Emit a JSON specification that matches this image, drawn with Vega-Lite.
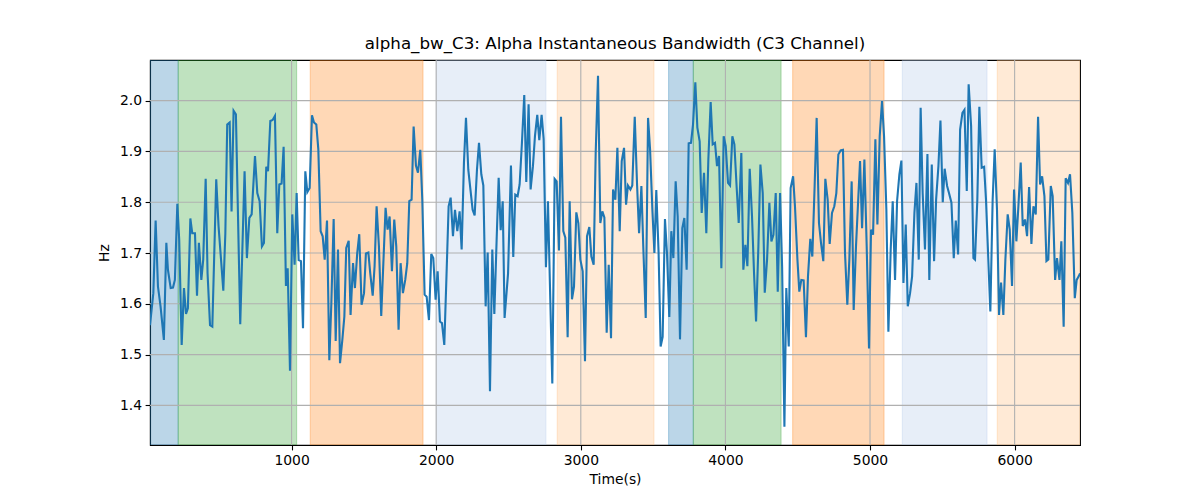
{
  "$schema": "https://vega.github.io/schema/vega-lite/v6.json",
  "width": 930,
  "height": 385,
  "autosize": {"type": "none"},
  "padding": {"left": 150, "top": 60, "right": 120, "bottom": 55},
  "background": "white",
  "view": {"stroke": "black", "strokeWidth": 1.1},
  "title": {
    "text": "alpha_bw_C3: Alpha Instantaneous Bandwidth (C3 Channel)",
    "font": "DejaVu Sans",
    "fontSize": 16.7,
    "fontWeight": "normal",
    "color": "black",
    "anchor": "middle",
    "offset": 7
  },
  "config": {
    "axis": {
      "labelFont": "DejaVu Sans",
      "labelFontSize": 13.9,
      "labelColor": "black",
      "titleFont": "DejaVu Sans",
      "titleFontSize": 13.9,
      "titleFontWeight": "normal",
      "titleColor": "black",
      "tickColor": "black",
      "tickSize": 4.9,
      "tickWidth": 1.1,
      "domainColor": "black",
      "domainWidth": 1.1,
      "labelPadding": 3.5,
      "grid": false
    }
  },
  "datasets": {
    "bw": [
      {"t":21,"v":1.558},{"t":44,"v":1.621},{"t":60,"v":1.764},{"t":76,"v":1.634},{"t":94,"v":1.595},{"t":117,"v":1.529},{"t":134,"v":1.720},{"t":145,"v":1.667},{"t":164,"v":1.631},{"t":180,"v":1.632},{"t":193,"v":1.647},{"t":210,"v":1.797},{"t":223,"v":1.726},{"t":240,"v":1.519},{"t":256,"v":1.631},{"t":270,"v":1.580},{"t":283,"v":1.591},{"t":300,"v":1.768},{"t":313,"v":1.739},{"t":332,"v":1.739},{"t":346,"v":1.616},{"t":359,"v":1.720},{"t":376,"v":1.647},{"t":389,"v":1.687},{"t":406,"v":1.846},{"t":419,"v":1.660},{"t":436,"v":1.558},{"t":452,"v":1.555},{"t":479,"v":1.845},{"t":495,"v":1.753},{"t":514,"v":1.680},{"t":528,"v":1.626},{"t":542,"v":1.739},{"t":555,"v":1.953},{"t":572,"v":1.957},{"t":585,"v":1.782},{"t":599,"v":1.980},{"t":615,"v":1.973},{"t":645,"v":1.560},{"t":675,"v":1.861},{"t":691,"v":1.690},{"t":708,"v":1.769},{"t":724,"v":1.776},{"t":747,"v":1.891},{"t":763,"v":1.818},{"t":779,"v":1.802},{"t":795,"v":1.713},{"t":809,"v":1.720},{"t":825,"v":1.870},
      {"t":837,"v":1.861},{"t":853,"v":1.960},{"t":869,"v":1.962},{"t":885,"v":1.970},{"t":901,"v":1.739},{"t":915,"v":1.835},{"t":931,"v":1.837},{"t":945,"v":1.909},{"t":961,"v":1.635},{"t":973,"v":1.670},{"t":989,"v":1.468},{"t":1005,"v":1.776},{"t":1021,"v":1.677},{"t":1035,"v":1.818},{"t":1049,"v":1.686},{"t":1065,"v":1.684},{"t":1079,"v":1.552},{"t":1095,"v":1.861},{"t":1109,"v":1.820},{"t":1125,"v":1.828},{"t":1141,"v":1.971},{"t":1155,"v":1.957},{"t":1171,"v":1.953},{"t":1185,"v":1.904},{"t":1201,"v":1.743},{"t":1215,"v":1.733},{"t":1229,"v":1.687},{"t":1245,"v":1.764},{"t":1261,"v":1.489},{"t":1275,"v":1.601},{"t":1291,"v":1.767},{"t":1305,"v":1.527},{"t":1321,"v":1.707},{"t":1335,"v":1.483},{"t":1351,"v":1.529},{"t":1365,"v":1.575},{"t":1378,"v":1.710},{"t":1395,"v":1.724},{"t":1408,"v":1.578},{"t":1425,"v":1.680},{"t":1438,"v":1.631},{"t":1454,"v":1.700},{"t":1468,"v":1.737},{"t":1484,"v":1.598},{"t":1501,"v":1.621},{"t":1514,"v":1.699},{"t":1531,"v":1.701},{"t":1544,"v":1.660},{"t":1561,"v":1.616},{"t":1574,"v":1.674},{"t":1588,"v":1.792},{"t":1604,"v":1.713},{"t":1620,"v":1.576},
      {"t":1650,"v":1.789},{"t":1664,"v":1.746},{"t":1678,"v":1.772},{"t":1694,"v":1.664},{"t":1710,"v":1.766},{"t":1724,"v":1.713},{"t":1740,"v":1.549},{"t":1754,"v":1.680},{"t":1770,"v":1.621},{"t":1786,"v":1.647},{"t":1800,"v":1.680},{"t":1814,"v":1.802},{"t":1830,"v":1.805},{"t":1844,"v":1.949},{"t":1860,"v":1.872},{"t":1874,"v":1.858},{"t":1890,"v":1.903},{"t":1904,"v":1.805},{"t":1920,"v":1.618},{"t":1934,"v":1.614},{"t":1950,"v":1.568},{"t":1966,"v":1.698},{"t":1980,"v":1.690},{"t":1996,"v":1.608},{"t":2010,"v":1.664},{"t":2026,"v":1.565},{"t":2040,"v":1.562},{"t":2056,"v":1.519},{"t":2070,"v":1.644},{"t":2086,"v":1.792},{"t":2100,"v":1.809},{"t":2116,"v":1.733},{"t":2130,"v":1.785},{"t":2146,"v":1.743},{"t":2162,"v":1.782},{"t":2176,"v":1.707},{"t":2192,"v":1.878},{"t":2206,"v":1.966},{"t":2222,"v":1.864},{"t":2238,"v":1.822},{"t":2252,"v":1.785},{"t":2266,"v":1.774},{"t":2282,"v":1.864},{"t":2296,"v":1.917},{"t":2312,"v":1.855},{"t":2326,"v":1.833},{"t":2342,"v":1.595},{"t":2356,"v":1.701},{"t":2372,"v":1.428},{"t":2388,"v":1.707},{"t":2402,"v":1.580},{"t":2418,"v":1.726},{"t":2432,"v":1.848},{"t":2446,"v":1.745},{"t":2460,"v":1.802},
      {"t":2473,"v":1.572},{"t":2497,"v":1.660},{"t":2517,"v":1.872},{"t":2533,"v":1.692},{"t":2547,"v":1.815},{"t":2563,"v":1.812},{"t":2577,"v":1.835},{"t":2593,"v":1.917},{"t":2609,"v":2.011},{"t":2623,"v":1.840},{"t":2639,"v":1.993},{"t":2653,"v":1.825},{"t":2669,"v":1.871},{"t":2683,"v":1.930},{"t":2699,"v":1.972},{"t":2713,"v":1.922},{"t":2729,"v":1.972},{"t":2743,"v":1.925},{"t":2759,"v":1.672},{"t":2773,"v":1.802},{"t":2789,"v":1.608},{"t":2803,"v":1.443},{"t":2819,"v":1.846},{"t":2833,"v":1.841},{"t":2849,"v":1.705},{"t":2863,"v":1.968},{"t":2879,"v":1.743},{"t":2893,"v":1.730},{"t":2909,"v":1.534},{"t":2923,"v":1.802},{"t":2939,"v":1.609},{"t":2953,"v":1.634},{"t":2969,"v":1.780},{"t":2983,"v":1.759},{"t":2997,"v":1.687},{"t":3013,"v":1.664},{"t":3029,"v":1.487},{"t":3043,"v":1.733},{"t":3059,"v":1.751},{"t":3073,"v":1.693},{"t":3089,"v":1.677},{"t":3103,"v":1.897},{"t":3119,"v":2.049},{"t":3135,"v":1.759},{"t":3149,"v":1.782},{"t":3163,"v":1.770},{"t":3179,"v":1.543},{"t":3193,"v":1.677},{"t":3209,"v":1.532},{"t":3223,"v":1.825},{"t":3239,"v":1.805},{"t":3253,"v":1.907},{"t":3269,"v":1.743},
      {"t":3283,"v":1.881},{"t":3299,"v":1.907},{"t":3313,"v":1.795},{"t":3326,"v":1.833},{"t":3343,"v":1.825},{"t":3356,"v":1.833},{"t":3373,"v":1.968},{"t":3389,"v":1.835},{"t":3403,"v":1.739},{"t":3419,"v":1.832},{"t":3432,"v":1.713},{"t":3449,"v":1.572},{"t":3465,"v":1.966},{"t":3479,"v":1.904},{"t":3495,"v":1.785},{"t":3509,"v":1.700},{"t":3522,"v":1.824},{"t":3538,"v":1.700},{"t":3552,"v":1.516},{"t":3566,"v":1.535},{"t":3582,"v":1.767},{"t":3596,"v":1.700},{"t":3612,"v":1.574},{"t":3626,"v":1.743},{"t":3640,"v":1.690},{"t":3656,"v":1.841},{"t":3670,"v":1.772},{"t":3686,"v":1.530},{"t":3702,"v":1.749},{"t":3716,"v":1.769},{"t":3732,"v":1.667},{"t":3746,"v":1.916},{"t":3762,"v":1.917},{"t":3776,"v":1.953},{"t":3792,"v":2.036},{"t":3806,"v":1.947},{"t":3822,"v":1.920},{"t":3836,"v":1.779},{"t":3852,"v":1.858},{"t":3868,"v":1.739},{"t":3882,"v":1.884},{"t":3898,"v":1.997},{"t":3912,"v":1.914},{"t":3928,"v":1.917},{"t":3942,"v":1.871},{"t":3956,"v":1.891},{"t":3972,"v":1.670},{"t":3988,"v":1.930},{"t":4002,"v":1.911},{"t":4018,"v":1.838},{"t":4032,"v":1.833},{"t":4048,"v":1.930},{"t":4062,"v":1.914},{"t":4078,"v":1.828},{"t":4092,"v":1.759},
      {"t":4110,"v":1.897},{"t":4124,"v":1.667},{"t":4138,"v":1.716},{"t":4152,"v":1.674},{"t":4168,"v":1.866},{"t":4184,"v":1.772},{"t":4198,"v":1.660},{"t":4212,"v":1.565},{"t":4228,"v":1.713},{"t":4242,"v":1.874},{"t":4258,"v":1.818},{"t":4272,"v":1.622},{"t":4288,"v":1.687},{"t":4304,"v":1.799},{"t":4318,"v":1.723},{"t":4332,"v":1.736},{"t":4348,"v":1.818},{"t":4362,"v":1.624},{"t":4378,"v":1.818},{"t":4392,"v":1.674},{"t":4408,"v":1.358},{"t":4421,"v":1.631},{"t":4438,"v":1.516},{"t":4451,"v":1.828},{"t":4468,"v":1.851},{"t":4481,"v":1.792},{"t":4498,"v":1.687},{"t":4511,"v":1.624},{"t":4525,"v":1.647},{"t":4541,"v":1.646},{"t":4557,"v":1.534},{"t":4571,"v":1.654},{"t":4587,"v":1.728},{"t":4601,"v":1.693},{"t":4617,"v":1.832},{"t":4631,"v":1.966},{"t":4647,"v":1.759},{"t":4661,"v":1.720},{"t":4677,"v":1.684},{"t":4691,"v":1.846},{"t":4707,"v":1.805},{"t":4721,"v":1.718},{"t":4737,"v":1.779},{"t":4753,"v":1.792},{"t":4767,"v":1.818},{"t":4781,"v":1.894},{"t":4797,"v":1.902},{"t":4813,"v":1.903},{"t":4827,"v":1.700},{"t":4843,"v":1.598},{"t":4857,"v":1.687},{"t":4873,"v":1.841},{"t":4887,"v":1.588},{"t":4903,"v":1.713},
      {"t":4931,"v":1.881},{"t":4945,"v":1.749},{"t":4961,"v":1.884},{"t":4977,"v":1.713},{"t":4993,"v":1.512},{"t":5007,"v":1.746},{"t":5021,"v":1.736},{"t":5037,"v":1.924},{"t":5051,"v":1.756},{"t":5067,"v":1.930},{"t":5083,"v":1.999},{"t":5097,"v":1.930},{"t":5113,"v":1.785},{"t":5127,"v":1.545},{"t":5143,"v":1.707},{"t":5157,"v":1.802},{"t":5173,"v":1.647},{"t":5187,"v":1.802},{"t":5203,"v":1.855},{"t":5217,"v":1.882},{"t":5231,"v":1.641},{"t":5247,"v":1.756},{"t":5261,"v":1.595},{"t":5277,"v":1.621},{"t":5291,"v":1.654},{"t":5307,"v":1.779},{"t":5321,"v":1.838},{"t":5337,"v":1.687},{"t":5350,"v":1.986},{"t":5364,"v":1.818},{"t":5380,"v":1.707},{"t":5397,"v":1.895},{"t":5410,"v":1.647},{"t":5427,"v":1.874},{"t":5443,"v":1.684},{"t":5457,"v":1.805},{"t":5473,"v":1.871},{"t":5487,"v":1.961},{"t":5503,"v":1.800},{"t":5516,"v":1.866},{"t":5533,"v":1.832},{"t":5546,"v":1.818},{"t":5563,"v":1.799},{"t":5579,"v":1.690},{"t":5593,"v":1.764},{"t":5609,"v":1.697},{"t":5623,"v":1.943},{"t":5639,"v":1.976},{"t":5653,"v":1.982},{"t":5669,"v":1.822},{"t":5682,"v":2.032},{"t":5699,"v":1.950},{"t":5715,"v":1.690},
      {"t":5726,"v":1.687},{"t":5742,"v":1.805},{"t":5756,"v":1.988},{"t":5772,"v":1.868},{"t":5789,"v":1.870},{"t":5802,"v":1.805},{"t":5818,"v":1.687},{"t":5832,"v":1.585},{"t":5848,"v":1.805},{"t":5862,"v":1.904},{"t":5878,"v":1.785},{"t":5892,"v":1.578},{"t":5906,"v":1.642},{"t":5922,"v":1.578},{"t":5936,"v":1.687},{"t":5952,"v":1.776},{"t":5966,"v":1.746},{"t":5982,"v":1.635},{"t":5996,"v":1.825},{"t":6012,"v":1.723},{"t":6026,"v":1.792},{"t":6042,"v":1.878},{"t":6056,"v":1.753},{"t":6072,"v":1.766},{"t":6086,"v":1.733},{"t":6100,"v":1.830},{"t":6116,"v":1.718},{"t":6130,"v":1.792},{"t":6146,"v":1.776},{"t":6162,"v":1.968},{"t":6176,"v":1.835},{"t":6190,"v":1.851},{"t":6206,"v":1.812},{"t":6220,"v":1.684},{"t":6233,"v":1.687},{"t":6250,"v":1.832},{"t":6263,"v":1.812},{"t":6280,"v":1.647},{"t":6293,"v":1.690},{"t":6310,"v":1.647},{"t":6323,"v":1.723},{"t":6339,"v":1.555},{"t":6353,"v":1.847},{"t":6369,"v":1.838},{"t":6383,"v":1.855},{"t":6399,"v":1.779},{"t":6416,"v":1.611},{"t":6429,"v":1.647},{"t":6443,"v":1.654},{"t":6452,"v":1.660}
    ],
    "bands": [
      {"start":21,"end":216,"stage":"1"},
      {"start":216,"end":1035,"stage":"5"},
      {"start":1129,"end":1909,"stage":"3"},
      {"start":2001,"end":2759,"stage":"2"},
      {"start":2837,"end":3506,"stage":"4"},
      {"start":3607,"end":3778,"stage":"1"},
      {"start":3778,"end":4385,"stage":"5"},
      {"start":4465,"end":5097,"stage":"3"},
      {"start":5223,"end":5809,"stage":"2"},
      {"start":5880,"end":6452,"stage":"4"}
    ],
    "xgrid": [{"t":1000},{"t":2000},{"t":3000},{"t":4000},{"t":5000},{"t":6000}],
    "ygrid": [{"v":1.4},{"v":1.5},{"v":1.6},{"v":1.7},{"v":1.8},{"v":1.9},{"v":2.0}]
  },
  "layer": [
    {
      "data": {"name": "bands"},
      "mark": {"type": "rect", "fillOpacity": 0.3, "strokeOpacity": 0.3, "strokeWidth": 1.1, "clip": true},
      "encoding": {
        "x": {"field": "start", "type": "quantitative", "scale": {"domain": [21, 6452], "nice": false, "zero": false},
              "axis": {"values": [1000,2000,3000,4000,5000,6000], "title": "Time(s)", "format": "d", "titlePadding": 5}},
        "x2": {"field": "end"},
        "fill": {"field": "stage", "type": "nominal", "legend": null,
                 "scale": {"domain": ["1","2","3","4","5"], "range": ["#1f77b4","#aec7e8","#ff7f0e","#ffbb78","#2ca02c"]}},
        "stroke": {"field": "stage", "type": "nominal", "legend": null,
                 "scale": {"domain": ["1","2","3","4","5"], "range": ["#1f77b4","#aec7e8","#ff7f0e","#ffbb78","#2ca02c"]}}
      }
    },
    {
      "data": {"name": "xgrid"},
      "mark": {"type": "rule", "color": "#b0b0b0", "strokeWidth": 1.1},
      "encoding": {"x": {"field": "t", "type": "quantitative"}}
    },
    {
      "data": {"name": "ygrid"},
      "mark": {"type": "rule", "color": "#b0b0b0", "strokeWidth": 1.1},
      "encoding": {"y": {"field": "v", "type": "quantitative"}}
    },
    {
      "data": {"name": "bw"},
      "mark": {"type": "line", "color": "#1f77b4", "strokeWidth": 2.1, "clip": true},
      "encoding": {
        "x": {"field": "t", "type": "quantitative"},
        "y": {"field": "v", "type": "quantitative", "scale": {"domain": [1.322, 2.08], "nice": false, "zero": false},
              "axis": {"values": [1.4,1.5,1.6,1.7,1.8,1.9,2.0], "format": ".1f", "title": "Hz", "titlePadding": 8}}
      }
    }
  ]
}
